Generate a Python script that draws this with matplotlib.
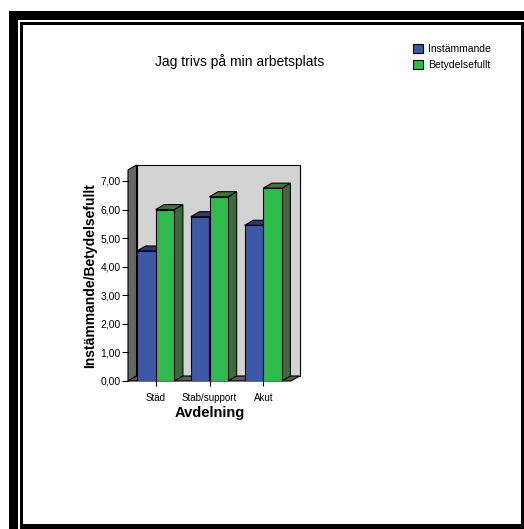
import numpy as np
import matplotlib.pyplot as plt
from matplotlib.patches import Polygon, Rectangle

categories = ['Städ', 'Stab/support', 'Akut']
instammande = [4.55, 5.75, 5.45]
betydelsefullt = [6.0, 6.45, 6.75]
yticks = [0, 1, 2, 3, 4, 5, 6, 7]
ytick_labels = ['0,00', '1,00', '2,00', '3,00', '4,00', '5,00', '6,00', '7,00']

plt.rcParams['font.family'] = ['Liberation Sans', 'DejaVu Sans']

W, H = 524, 529
fig = plt.figure(figsize=(W / 100, H / 100), dpi=100)


def px_rect(x0, y0, x1, y1, color):
    # rectangle given in pixel coords, origin top-left
    fig.add_artist(Rectangle((x0 / W, 1 - y1 / H), (x1 - x0) / W, (y1 - y0) / H,
                             transform=fig.transFigure, facecolor=color,
                             edgecolor='none', zorder=0))


# double frame around the chart
px_rect(9, 11, W, H, 'black')
px_rect(18, 20, W, H, 'white')
px_rect(20, 22, W, H, 'black')
px_rect(22.5, 24.5, 521, 524, 'white')

# axes = front plane of the 3d box
ax = fig.add_axes([128 / W, 1 - 381 / H, 163 / W, 211 / H])
ax.patch.set_visible(False)
xmin, xmax = -0.515, 2.515
ymax = 7.385
ax.set_xlim(xmin, xmax)
ax.set_ylim(0, ymax)

# depth of the box in data units (about 8.5 px right, 5 px up)
dx = 8.5 * (xmax - xmin) / 163
dy = 5 * ymax / 211

wall_kw = dict(edgecolor='black', linewidth=0.8, clip_on=False)
ax.add_patch(Polygon([(xmin + dx, dy), (xmax + dx, dy), (xmax + dx, ymax + dy), (xmin + dx, ymax + dy)],
                     facecolor='#d3d3d3', zorder=1, **wall_kw))
ax.add_patch(Polygon([(xmin, 0), (xmin + dx, dy), (xmin + dx, ymax + dy), (xmin, ymax)],
                     facecolor='#676767', zorder=1.5, **wall_kw))
ax.add_patch(Polygon([(xmin, 0), (xmax, 0), (xmax + dx, dy), (xmin + dx, dy)],
                     facecolor='#5a5a5a', zorder=1.5, **wall_kw))

x = np.arange(len(categories))
bw = 0.347


def bars3d(left, vals, front, top, side, z):
    for l, v in zip(left, vals):
        ax.add_patch(Polygon([(l + bw, 0), (l + bw + dx, dy), (l + bw + dx, v + dy), (l + bw, v)],
                             facecolor=side, zorder=z, **wall_kw))
        ax.add_patch(Polygon([(l, v), (l + bw, v), (l + bw + dx, v + dy), (l + dx, v + dy)],
                             facecolor=top, zorder=z, **wall_kw))
    return ax.bar(left, vals, width=bw, align='edge', color=front,
                  edgecolor='black', linewidth=0.8, zorder=z + 0.5)


b1 = bars3d(x - bw, instammande, '#3e58a8', '#2e3b69', '#2e3b69', 3)
b2 = bars3d(x, betydelsefullt, '#2fbb4b', '#3b773b', '#3a6b3a', 5)

for s in ax.spines.values():
    s.set_visible(False)

ax.set_yticks(yticks)
ax.set_yticklabels(ytick_labels)
ax.tick_params(axis='y', direction='out', length=4.3, width=0.8, pad=1, labelsize=7.5)
ax.set_xticks(x)
ax.set_xticklabels(categories)
ax.tick_params(axis='x', direction='out', length=3.6, width=0.8, pad=5, labelsize=7)

ax.set_xlabel('Avdelning', fontsize=10.5, fontweight='bold', labelpad=2)
ax.set_ylabel('Instämmande/Betydelsefullt', fontsize=10, fontweight='bold', labelpad=2)

fig.text(240 / W, 1 - 62 / H, 'Jag trivs på min arbetsplats', ha='center', va='center', fontsize=10)

fig.legend(handles=[b1, b2], labels=['Instämmande', 'Betydelsefullt'],
           loc='upper left', bbox_to_anchor=(413 / W, 1 - 44 / H), frameon=False,
           fontsize=7.5, handlelength=0.95, handleheight=0.95, handletextpad=0.5,
           labelspacing=0.55, borderaxespad=0, borderpad=0)

fig.savefig('out.png', dpi=100)
